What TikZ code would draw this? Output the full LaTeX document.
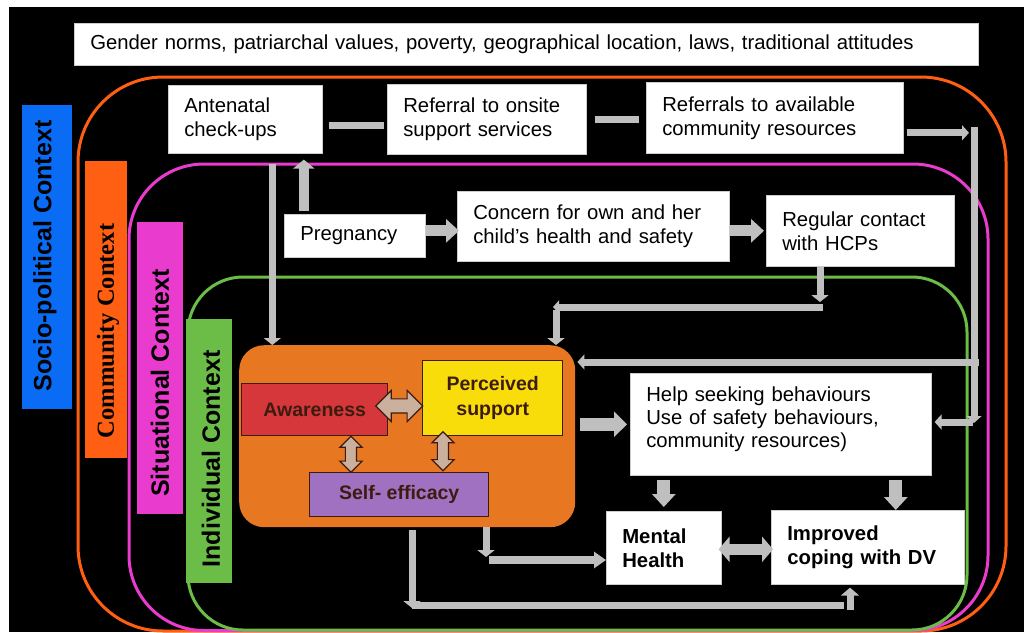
\documentclass[tikz,border=0pt]{standalone}
\usepackage{fontspec}
\setmainfont{Liberation Sans}
\newfontfamily\timesfont{Liberation Serif}
\usetikzlibrary{arrows.meta,calc,shapes.arrows}

\definecolor{socioblue}{HTML}{0A6CF5}
\definecolor{commorange}{HTML}{FF5F12}
\definecolor{sitpink}{HTML}{E93BCD}
\definecolor{indgreen}{HTML}{6CBD48}
\definecolor{coreorange}{HTML}{E87722}
\definecolor{awred}{HTML}{D5373B}
\definecolor{supyellow}{HTML}{F9DD0B}
\definecolor{effpurple}{HTML}{A070C1}
\definecolor{tanarrow}{HTML}{CBB09E}
\definecolor{darkbrown}{HTML}{3B1C0E}
\definecolor{linkgray}{HTML}{BFBFBF}

\tikzset{
  wbox/.style={fill=white, draw=black!20, line width=0.6pt, anchor=north west, align=left,
    inner xsep=16pt, inner ysep=0pt, font=\fontsize{20.3}{24}\selectfont},
  factor/.style={draw=darkbrown, line width=1.4pt, anchor=north west, align=center,
    inner sep=0pt, text=darkbrown, font=\bfseries\fontsize{19.5}{25}\selectfont},
  ctxbar/.style={anchor=north west, inner sep=0pt},
  ctxtext/.style={rotate=90, inner sep=0pt, font=\bfseries\fontsize{25}{25}\selectfont},
  ctxframe/.style={line width=3pt, rounded corners=#1},
  pipe/.style={draw=linkgray, line width=7pt},
  pipearr/.style={pipe, -{Triangle[width=15pt,length=7pt]}},
  fat/.style={draw=linkgray, line width=11pt, -{Triangle[width=23pt,length=13pt]}},
  tanlink/.style={double arrow, fill=tanarrow, draw=darkbrown, line width=1.2pt,
    inner xsep=0pt, text height=0pt, text depth=0pt}
}

\begin{document}
\begin{tikzpicture}[x=1pt, y=-1pt]
  \useasboundingbox (0,0) rectangle (1024,632);
  \fill[white] (0,0) rectangle (1024,632);
  \fill[black] (9,7) rectangle (1024,632);

  % nested context frames
  \draw[commorange, ctxframe=85pt] (78,77) rectangle (1006,631);
  \draw[sitpink, ctxframe=75pt] (129,164) rectangle (988,630.5);
  \draw[indgreen, ctxframe=55pt] (188,277) rectangle (967,630);

  % context labels
  \node (socio) [ctxbar, fill=socioblue, minimum width=50pt, minimum height=304pt] at (22,105) {};
  \node (sociotxt) [ctxtext] at (45,256) {Socio-political Context};
  \node (comm) [ctxbar, fill=commorange, minimum width=42pt, minimum height=297pt] at (85,161) {};
  \node (commtxt) [ctxtext, font=\timesfont\bfseries\fontsize{24.5}{25}\selectfont] at (108,331) {Community Context};
  \node (sit) [ctxbar, fill=sitpink, minimum width=46pt, minimum height=292pt] at (137,222) {};
  \node (sittxt) [ctxtext] at (160,383) {Situational Context};
  \node (ind) [ctxbar, fill=indgreen, minimum width=46pt, minimum height=264pt] at (186,319) {};
  \node (indtxt) [ctxtext] at (211,459) {Individual Context};

  % boxes
  \node (gender) [wbox, text width=872pt, minimum height=42pt] at (74,23)
    {Gender norms, patriarchal values, poverty, geographical location, laws, traditional attitudes};
  \node (ante) [wbox, text width=122pt, minimum height=68pt] at (168,85) {Antenatal\\check-ups};
  \node (refon) [wbox, text width=167pt, minimum height=70pt] at (387,84) {Referral to onsite\\support services};
  \node (refcom) [wbox, text width=225pt, minimum height=71pt] at (646,82) {Referrals to available\\community resources};
  \node (preg) [wbox, text width=109pt, minimum height=43pt] at (284,214) {Pregnancy};
  \node (concern) [wbox, text width=240pt, minimum height=70pt] at (457,191)
    {Concern for own and her\\child’s health and safety};
  \node (hcp) [wbox, text width=156pt, minimum height=71pt] at (766,195) {Regular contact\\with HCPs};
  \node (help) [wbox, text width=269pt, minimum height=102pt, font=\fontsize{20.3}{23}\selectfont] at (630,373)
    {Help seeking behaviours\\Use of safety behaviours,\\community resources)\\[-9pt]\mbox{}};
  \node (mental) [wbox, text width=83pt, minimum height=73pt, font=\bfseries\fontsize{20.3}{24}\selectfont]
    at (606,511) {Mental\\Health};
  \node (coping) [wbox, text width=161pt, minimum height=74pt, font=\bfseries\fontsize{20.3}{23.5}\selectfont]
    at (771,510) {Improved\\coping with DV};

  % individual factors
  \node (core) [fill=coreorange, rounded corners=25pt, anchor=north west, inner sep=0pt,
    minimum width=336pt, minimum height=182pt] at (239,345) {};
  \node (aware) [factor, fill=awred, minimum width=146pt, minimum height=52pt] at (241,383) {Awareness};
  \node (percv) [factor, fill=supyellow, minimum width=140pt, minimum height=75pt] at (422,360)
    {Perceived\\support};
  \node (selfe) [factor, fill=effpurple, minimum width=179pt, minimum height=44pt] at (309,472) {Self- efficacy};

  \node (awpe) [tanlink, minimum height=47pt, inner ysep=6.5pt, double arrow head extend=8.5pt]
    at ($(aware.east)!.5!(percv.west)+(-6,2)$) {};
  \node (awse) [tanlink, rotate=90, minimum height=36pt, inner ysep=5pt, double arrow head extend=5.5pt]
    at ($(aware.south)!.5!(selfe.north)+(-6,0)$) {};
  \node (pese) [tanlink, rotate=90, minimum height=39pt, inner ysep=5pt, double arrow head extend=5.5pt]
    at ($(percv.south)!.5!(selfe.north)+(-3,-3)$) {};

  % top row links
  \draw[pipe] ([xshift=6pt,yshift=-6pt]ante.east) -- ([xshift=-3pt,yshift=-6pt]ante.east -| refon.west);
  \draw[pipe, shorten <=8pt, shorten >=7pt] (refon.east) -- (refon.east -| refcom.west);
  \coordinate (bustop) at (974,127);
  \coordinate (busbot) at (974,423);
  \draw[pipearr, shorten <=3pt, shorten >=5pt] ([yshift=-15pt]refcom.east) -- ([yshift=-15pt]refcom.east -| bustop);
  \draw[pipearr] (bustop) -- (busbot);
  \coordinate (busA) at (979,362);
  \coordinate (busB) at (973,422);
  \draw[pipearr, shorten >=2pt] (busA) -- (busA -| core.east);
  \draw[pipearr, shorten >=3pt] (busB) -- (busB -| help.east);

  % pregnancy chain
  \draw[fat, -{Triangle[width=21pt,length=9pt]}, line width=10pt, shorten >=6pt]
    ([xshift=-51pt,yshift=3pt]preg.north) -- ([xshift=-51pt]preg.north |- ante.south);
  \draw[fat, shorten >=-2pt] ([yshift=5pt]preg.east) -- ([yshift=5pt]preg.east -| concern.west);
  \draw[fat, shorten >=2pt] (concern.east |- hcp.west) -- (hcp.west);
  \draw[pipearr, -{Triangle[width=17pt,length=7pt]}] ([xshift=27pt,yshift=-10pt]ante.south)
    -- ([xshift=27pt]ante.south |- core.north);

  % from HCP contact to the individual factors
  \coordinate (hcpbend) at (820,307);
  \coordinate (indbend) at (556,307);
  \draw[pipearr, -{Triangle[width=17pt,length=7pt]}] (hcp.south -| hcpbend) -- ([yshift=5pt]hcpbend);
  \draw[pipearr, -{Triangle[width=13pt,length=6pt]}] ([xshift=3pt]hcpbend) -- ([xshift=-3pt]indbend);
  \draw[pipearr, -{Triangle[width=17pt,length=7pt]}] ([yshift=-3pt]indbend) -- (indbend |- core.north);

  % outcomes
  \draw[fat, line width=13pt, -{Triangle[width=25pt,length=13pt]}, shorten <=5pt, shorten >=3pt]
    (core.east |- help.west) -- (help.west);
  \draw[fat, line width=13pt, -{Triangle[width=23pt,length=13pt]}, shorten >=4pt]
    ([yshift=-4pt]help.south -| mental.north) -- (mental.north);
  \draw[fat, line width=13pt, -{Triangle[width=23pt,length=13pt]}]
    ([xshift=28pt,yshift=-4pt]coping.north |- help.south) -- ([xshift=28pt]coping.north);
  \draw[fat, {Triangle[width=25pt,length=11pt]}-{Triangle[width=25pt,length=11pt]}, shorten <=-3pt, shorten >=-2pt]
    ([yshift=-1.5pt]mental.east) -- ([yshift=-1.5pt]mental.east -| coping.west);

  % bottom links
  \coordinate (mhbend) at (486,560);
  \draw[pipearr, -{Triangle[width=17pt,length=7pt]}] (core.south -| mhbend) -- ([yshift=3pt]mhbend);
  \draw[pipearr, -{Triangle[width=16pt,length=12pt]}, line width=8pt] ([xshift=3pt]mhbend) -- (mhbend -| mental.west);
  \coordinate (cpbend) at (412,605);
  \coordinate (cpup) at (850,605);
  \draw[pipearr, -{Triangle[width=17pt,length=7pt]}] ([yshift=-3pt]core.south -| cpbend) -- ([yshift=-3pt]cpbend);
  \draw[pipe] (cpbend) -- ([xshift=-6pt]cpup);
  \draw[pipearr, -{Triangle[width=18pt,length=8pt]}, shorten >=3pt] ([yshift=-5pt]cpup) -- (cpup |- coping.south);
\end{tikzpicture}
\end{document}
